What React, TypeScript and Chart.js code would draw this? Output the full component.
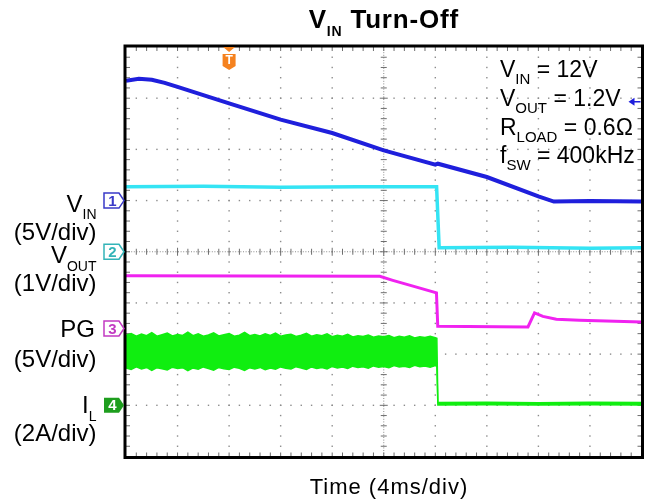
import React, { useEffect, useRef } from "react";
import { Chart, registerables } from "chart.js";

Chart.register(...registerables);

// Time axis: ms relative to trigger, 4 ms/div, 10 divisions
const TIME_MIN = -8;
const TIME_MAX = 32;

// CH1 V_IN (5 V/div)
const vinTime = [-8, -7, -6, -5, -4, 0, 4, 8, 12, 16, 16.2, 20, 24, 25.2, 28, 32];
const vinVolts = [11.7, 11.9, 11.8, 11.5, 11.1, 9.5, 7.9, 6.6, 4.9, 3.5, 3.6, 2.3, 0.4, -0.1, -0.05, -0.1];

// CH2 V_OUT (1 V/div)
const voutTime = [-8, -2, 4, 10, 16.1, 16.3, 22, 28, 32];
const voutVolts = [1.27, 1.28, 1.26, 1.27, 1.27, 0.08, 0.09, 0.07, 0.08];

// CH3 PG (5 V/div)
const pgTime = [-8, 11.7, 12.7, 14.27, 16.09, 16.19, 23.19, 23.7, 24.35, 25.39, 27.19, 32];
const pgVolts = [5.15, 5.1, 4.71, 4.14, 3.49, 0.22, 0.15, 1.52, 1.19, 0.9, 0.8, 0.63];

// CH4 I_L (2 A/div) - ripple envelope
const ilTime = [
  -8, -7.6, -7.2, -6.8, -6.4, -6, -5.6, -5.2, -4.8, -4.4,
  -4, -3.6, -3.2, -2.8, -2.4, -2, -1.6, -1.2, -0.8, -0.4,
  0, 0.4, 0.8, 1.2, 1.6, 2, 2.4, 2.8, 3.2, 3.6,
  4, 4.4, 4.8, 5.2, 5.6, 6, 6.4, 6.8, 7.2, 7.6,
  8, 8.4, 8.8, 9.2, 9.6, 10, 10.4, 10.8, 11.2, 11.6,
  12, 12.4, 12.8, 13.2, 13.6, 14, 14.4, 14.8, 15.2, 15.6,
  16, 16.12, 16.2, 20, 24, 28, 32,
];
const ilUpper = [
  2.74, 2.8, 2.7, 2.78, 2.72, 2.84, 2.7, 2.76, 2.82, 2.71,
  2.77, 2.73, 2.86, 2.72, 2.79, 2.7, 2.75, 2.83, 2.71, 2.76,
  2.8, 2.7, 2.74, 2.85, 2.72, 2.77, 2.71, 2.79, 2.73, 2.82,
  2.7, 2.75, 2.78, 2.69, 2.74, 2.81, 2.7, 2.76, 2.72, 2.79,
  2.68, 2.74, 2.7, 2.77, 2.67, 2.72, 2.69, 2.75, 2.66, 2.71,
  2.68, 2.73, 2.64, 2.7, 2.66, 2.72, 2.63, 2.68, 2.65, 2.7,
  2.64, 2.62, 0.11, 0.12, 0.1, 0.12, 0.11,
];
const ilLower = [
  1.46, 1.4, 1.5, 1.42, 1.48, 1.36, 1.47, 1.43, 1.38, 1.49,
  1.44, 1.47, 1.35, 1.46, 1.41, 1.5, 1.44, 1.37, 1.48, 1.43,
  1.4, 1.49, 1.45, 1.36, 1.47, 1.42, 1.48, 1.39, 1.46, 1.41,
  1.5, 1.45, 1.42, 1.51, 1.46, 1.4, 1.5, 1.44, 1.48, 1.42,
  1.52, 1.46, 1.5, 1.44, 1.53, 1.48, 1.51, 1.45, 1.54, 1.49,
  1.52, 1.47, 1.55, 1.5, 1.53, 1.48, 1.56, 1.51, 1.54, 1.49,
  1.55, 1.52, 0.01, 0.02, 0.01, 0.02, 0.01,
];

// trigger level on CH1 (V)
const triggerLevel = 9.65;

const COL_VIN = "#1f1fdc";
const COL_VOUT = "#34e4f4";
const COL_PG = "#f022f0";
const COL_IL = "#10ee10";

const ARIAL = '"Liberation Sans", Arial, sans-serif';

type Part = [string, boolean];

function drawRich(
  ctx: CanvasRenderingContext2D,
  parts: Part[],
  x: number,
  y: number,
  size: number,
  subSize: number,
  subDy: number,
  family: string,
  weight: string,
  align: "left" | "right" | "center",
  spacing = 0
) {
  const c: any = ctx;
  c.letterSpacing = `${spacing}px`;
  const fontFor = (sub: boolean) => `${weight} ${sub ? subSize : size}px ${family}`;
  let total = 0;
  const widths = parts.map(([t, sub]) => {
    ctx.font = fontFor(sub);
    const w = ctx.measureText(t).width;
    total += w;
    return w;
  });
  let cx = align === "left" ? x : align === "right" ? x - total : x - total / 2;
  ctx.textAlign = "left";
  ctx.textBaseline = "alphabetic";
  parts.forEach(([t, sub], i) => {
    ctx.font = fontFor(sub);
    ctx.fillText(t, cx, sub ? y + subDy : y);
    cx += widths[i];
  });
  c.letterSpacing = "0px";
}

const scopePlugin = {
  id: "scopeDecor",
  beforeDatasetsDraw(chart: any) {
    const { ctx, chartArea: a } = chart;
    const dw = (a.right - a.left) / 10;
    const dh = (a.bottom - a.top) / 8;
    ctx.save();
    ctx.fillStyle = "#8c8c8c";
    for (let i = 1; i < 10; i++) {
      if (i === 5) continue;
      const x = a.left + i * dw;
      for (let k = 1; k < 40; k++) {
        const y = a.top + (k * dh) / 5;
        ctx.fillRect(x - 0.7, y - 0.7, 1.4, 1.4);
      }
    }
    for (let j = 1; j < 8; j++) {
      if (j === 4) continue;
      const y = a.top + j * dh;
      for (let k = 1; k < 50; k++) {
        const x = a.left + (k * dw) / 5;
        ctx.fillRect(x - 0.7, y - 0.7, 1.4, 1.4);
      }
    }
    const cx = a.left + 5 * dw;
    const cy = a.top + 4 * dh;
    ctx.strokeStyle = "#8c8c8c";
    ctx.lineWidth = 1;
    ctx.setLineDash([1, 1.6]);
    ctx.beginPath();
    ctx.moveTo(cx, a.top);
    ctx.lineTo(cx, a.bottom);
    ctx.moveTo(a.left, cy);
    ctx.lineTo(a.right, cy);
    ctx.stroke();
    ctx.setLineDash([]);
    ctx.strokeStyle = "#6e6e6e";
    ctx.beginPath();
    for (let k = 1; k < 40; k++) {
      const y = a.top + (k * dh) / 5;
      const len = k % 5 === 0 ? 4 : 3;
      ctx.moveTo(cx - len, y);
      ctx.lineTo(cx + len, y);
      ctx.moveTo(a.left, y);
      ctx.lineTo(a.left + 4, y);
      ctx.moveTo(a.right - 4, y);
      ctx.lineTo(a.right, y);
    }
    for (let k = 1; k < 50; k++) {
      const x = a.left + (k * dw) / 5;
      const len = k % 5 === 0 ? 4 : 3;
      ctx.moveTo(x, cy - len);
      ctx.lineTo(x, cy + len);
      ctx.moveTo(x, a.top);
      ctx.lineTo(x, a.top + 4);
      ctx.moveTo(x, a.bottom - 4);
      ctx.lineTo(x, a.bottom);
    }
    ctx.stroke();
    ctx.restore();
  },
  afterDatasetsDraw(chart: any) {
    const { ctx, chartArea: a, scales } = chart;
    ctx.save();
    // frame
    ctx.strokeStyle = "#000";
    ctx.lineWidth = 3;
    ctx.strokeRect(a.left - 1, a.top - 1, a.right - a.left + 2, a.bottom - a.top + 2);

    // channel reference markers
    const markers = [
      { n: "1", y: scales.yVin.getPixelForValue(0), c: "#3a3ac8", filled: false },
      { n: "2", y: scales.yVout.getPixelForValue(0), c: "#33b4b8", filled: false },
      { n: "3", y: scales.yPg.getPixelForValue(0), c: "#c23ac2", filled: false },
      { n: "4", y: scales.yIl.getPixelForValue(0), c: "#1e9e1e", filled: true },
    ];
    markers.forEach((m) => {
      const x0 = a.left - 22;
      const x1 = a.left - 7;
      const x2 = a.left - 2;
      const h = 7.5;
      ctx.beginPath();
      ctx.moveTo(x0, m.y - h);
      ctx.lineTo(x1, m.y - h);
      ctx.lineTo(x2, m.y);
      ctx.lineTo(x1, m.y + h);
      ctx.lineTo(x0, m.y + h);
      ctx.closePath();
      if (m.filled) {
        ctx.fillStyle = m.c;
        ctx.fill();
      } else {
        ctx.fillStyle = "#fff";
        ctx.fill();
        ctx.strokeStyle = m.c;
        ctx.lineWidth = 1.5;
        ctx.stroke();
      }
      ctx.fillStyle = m.filled ? "#fff" : m.c;
      ctx.font = `bold 15px ${ARIAL}`;
      ctx.textAlign = "center";
      ctx.textBaseline = "middle";
      ctx.fillText(m.n, (x0 + x1) / 2 + 1, m.y + 1);
    });

    // trigger position marker
    const tx = scales.x.getPixelForValue(0);
    const ty = a.top;
    ctx.fillStyle = "#f5821f";
    ctx.beginPath();
    ctx.moveTo(tx - 6, ty);
    ctx.lineTo(tx + 6, ty);
    ctx.lineTo(tx, ty + 5);
    ctx.closePath();
    ctx.fill();
    ctx.beginPath();
    ctx.moveTo(tx - 6.5, ty + 7);
    ctx.lineTo(tx + 6.5, ty + 7);
    ctx.lineTo(tx + 6.5, ty + 19);
    ctx.lineTo(tx, ty + 23);
    ctx.lineTo(tx - 6.5, ty + 19);
    ctx.closePath();
    ctx.fill();
    ctx.fillStyle = "#fff";
    ctx.font = `bold 12px ${ARIAL}`;
    ctx.textAlign = "center";
    ctx.textBaseline = "middle";
    ctx.fillText("T", tx, ty + 14);

    // trigger level arrow (right edge)
    const ly = scales.yVin.getPixelForValue(triggerLevel);
    ctx.strokeStyle = COL_VIN;
    ctx.fillStyle = COL_VIN;
    ctx.lineWidth = 1.5;
    ctx.beginPath();
    ctx.moveTo(a.right - 1, ly);
    ctx.lineTo(a.right - 8, ly);
    ctx.stroke();
    ctx.beginPath();
    ctx.moveTo(a.right - 13, ly);
    ctx.lineTo(a.right - 7, ly - 4);
    ctx.lineTo(a.right - 7, ly + 4);
    ctx.closePath();
    ctx.fill();
    ctx.restore();
  },
  afterDraw(chart: any) {
    const { ctx, chartArea: a } = chart;
    ctx.save();
    ctx.fillStyle = "#000";
    // title
    drawRich(ctx, [["V", false], ["IN", true], [" Turn-Off", false]], (a.left + a.right) / 2, 27.5, 26, 14, 8, ARIAL, "bold", "center", 0.8);
    // x axis title
    drawRich(ctx, [["Time (4ms/div)", false]], 389, 494, 22, 22, 0, ARIAL, "normal", "center", 1);
    // left channel labels
    const rx = 96.5;
    drawRich(ctx, [["V", false], ["IN", true]], rx, 211.5, 24, 14, 7.5, ARIAL, "normal", "right");
    drawRich(ctx, [["(5V/div)", false]], rx, 240, 24, 24, 0, ARIAL, "normal", "right");
    drawRich(ctx, [["V", false], ["OUT", true]], rx, 263, 24, 14, 7.5, ARIAL, "normal", "right");
    drawRich(ctx, [["(1V/div)", false]], rx, 290.5, 24, 24, 0, ARIAL, "normal", "right");
    drawRich(ctx, [["PG", false]], rx - 1.5, 337, 24, 24, 0, ARIAL, "normal", "right");
    drawRich(ctx, [["(5V/div)", false]], rx, 366.5, 24, 24, 0, ARIAL, "normal", "right");
    drawRich(ctx, [["I", false], ["L", true]], rx, 413, 24, 14, 7.5, ARIAL, "normal", "right");
    drawRich(ctx, [["(2A/div)", false]], rx, 440.5, 24, 24, 0, ARIAL, "normal", "right");
    // conditions
    const ax = 500;
    drawRich(ctx, [["V", false], ["IN", true], [" = 12V", false]], ax, 77, 23, 15, 7, ARIAL, "normal", "left");
    drawRich(ctx, [["V", false], ["OUT", true], [" = 1.2V", false]], ax, 106, 23, 15, 7, ARIAL, "normal", "left");
    drawRich(ctx, [["R", false], ["LOAD", true], [" = 0.6Ω", false]], ax, 134.5, 23, 15, 7, ARIAL, "normal", "left");
    drawRich(ctx, [["f", false], ["SW", true], [" = 400kHz", false]], ax, 163, 23, 15, 7, ARIAL, "normal", "left");
    ctx.restore();
  },
};

const toPts = (xs: number[], ys: number[]) => xs.map((x, i) => ({ x, y: ys[i] }));

export default function App() {
  const ref = useRef<HTMLCanvasElement | null>(null);
  useEffect(() => {
    if (!ref.current) return;
    const chart = new Chart(ref.current, {
      type: "line",
      data: {
        datasets: [
          { label: "VIN", data: toPts(vinTime, vinVolts), yAxisID: "yVin", borderColor: COL_VIN, borderWidth: 4, pointRadius: 0, fill: false },
          { label: "VOUT", data: toPts(voutTime, voutVolts), yAxisID: "yVout", borderColor: COL_VOUT, borderWidth: 3.5, pointRadius: 0, fill: false },
          { label: "PG", data: toPts(pgTime, pgVolts), yAxisID: "yPg", borderColor: COL_PG, borderWidth: 3, pointRadius: 0, fill: false },
          { label: "IL+", data: toPts(ilTime, ilUpper), yAxisID: "yIl", borderColor: COL_IL, borderWidth: 1.5, pointRadius: 0, fill: false },
          { label: "IL-", data: toPts(ilTime, ilLower), yAxisID: "yIl", borderColor: COL_IL, backgroundColor: COL_IL, borderWidth: 1.5, pointRadius: 0, fill: "-1" },
        ] as any,
      },
      options: {
        animation: false,
        responsive: false,
        maintainAspectRatio: false,
        layout: { padding: { left: 126, right: 11.5, top: 47, bottom: 47.5 } },
        elements: { line: { tension: 0 } },
        scales: {
          x: { type: "linear", min: TIME_MIN, max: TIME_MAX, display: false },
          yVin: { type: "linear", min: -25, max: 15, display: false },
          yVout: { type: "linear", min: -4, max: 4, display: false },
          yPg: { type: "linear", min: -12.5, max: 27.5, display: false },
          yIl: { type: "linear", min: -2, max: 14, display: false },
        },
        plugins: {
          legend: { display: false },
          title: { display: false },
          tooltip: { enabled: false },
        },
      },
      plugins: [scopePlugin],
    });
    return () => chart.destroy();
  }, []);
  return (
    <div style={{ position: "absolute", left: 0, top: 0, width: 653, height: 504, background: "#fff" }}>
      <canvas ref={ref} width={653} height={504} style={{ display: "block", width: 653, height: 504 }} />
    </div>
  );
}
